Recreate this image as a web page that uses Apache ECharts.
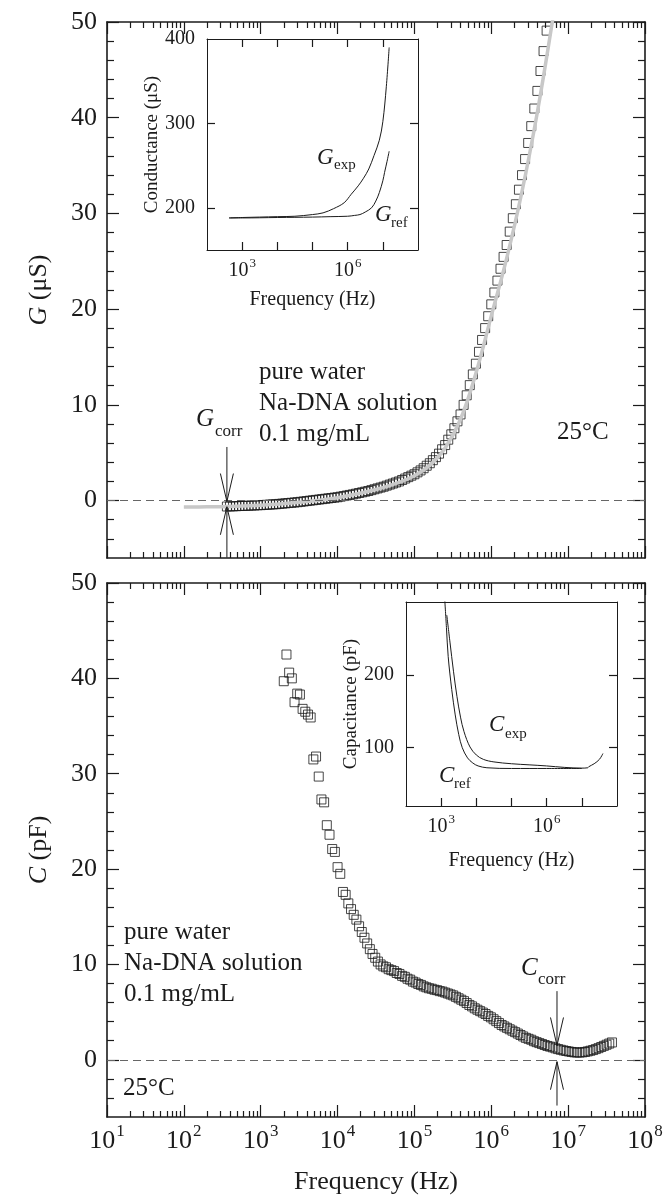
<!DOCTYPE html>
<html><head><meta charset="utf-8">
<script src="https://cdn.jsdelivr.net/npm/echarts@6/dist/echarts.min.js"></script>
<style>html,body{margin:0;padding:0;background:#fff}#c{width:666px;height:1198px}</style>
</head><body><div id="c"></div>
<script>
// ---------- data (frequencies given as log10(Hz)) ----------
const gLogF = [2.56,2.60,2.64,2.68,2.72,2.76,2.80,2.84,2.88,2.92,2.96,3.00,3.04,3.08,3.12,3.16,3.20,3.24,3.28,3.32,3.36,3.40,3.44,3.48,3.52,3.56,3.60,3.64,3.68,3.72,3.76,3.80,3.84,3.88,3.92,3.96,4.00,4.04,4.08,4.12,4.16,4.20,4.24,4.28,4.32,4.36,4.40,4.44,4.48,4.52,4.56,4.60,4.64,4.68,4.72,4.76,4.80,4.84,4.88,4.92,4.96,5.00,5.04,5.08,5.12,5.16,5.20,5.24,5.28,5.32,5.36,5.40,5.44,5.48,5.52,5.56,5.60,5.64,5.68,5.72,5.76,5.80,5.84,5.88,5.92,5.96,6.00,6.04,6.08,6.12,6.16,6.20,6.24,6.28,6.32,6.36,6.40,6.44,6.48,6.52,6.56,6.60,6.64,6.68,6.72,6.76];
const gVal = [-0.62,-0.61,-0.60,-0.59,-0.57,-0.56,-0.55,-0.54,-0.52,-0.51,-0.49,-0.48,-0.46,-0.44,-0.42,-0.40,-0.38,-0.35,-0.32,-0.29,-0.26,-0.23,-0.20,-0.17,-0.13,-0.09,-0.05,-0.01,0.03,0.07,0.11,0.15,0.19,0.23,0.27,0.31,0.35,0.41,0.47,0.53,0.59,0.65,0.72,0.79,0.86,0.93,1.00,1.09,1.18,1.27,1.36,1.45,1.56,1.67,1.78,1.89,2.00,2.15,2.30,2.45,2.60,2.75,2.95,3.15,3.38,3.64,3.90,4.22,4.54,4.90,5.36,5.80,6.36,6.92,7.56,8.28,9.00,10.0,11.0,12.06,13.18,14.3,15.54,16.78,18.02,19.26,20.5,21.74,22.98,24.22,25.46,26.7,28.1,29.5,30.96,32.48,34.0,35.68,37.36,39.12,40.96,42.8,44.88,46.96,49.1,51.2];
const gFitLogF = [2.00,2.30,2.56,3.00,3.50,4.00,4.50,4.80,5.00,5.20,5.40,5.60,5.80,6.00,6.20,6.40,6.60,6.80,6.86];
const gFitVal = [-0.68,-0.65,-0.62,-0.50,-0.18,0.30,1.15,1.90,2.60,3.70,5.50,8.50,13.3,19.3,25.3,32.3,40.6,50.3,53.5];

const cLogF = [3.300,3.335,3.370,3.405,3.440,3.475,3.510,3.545,3.580,3.615,3.650,3.685,3.720,3.755,3.790,3.825,3.860,3.895,3.930,3.965,4.000,4.035,4.070,4.105,4.140,4.175,4.210,4.245,4.280,4.315,4.350,4.385,4.420,4.455,4.490,4.525,4.560,4.595,4.630,4.665,4.700,4.735,4.770,4.805,4.840,4.875,4.910,4.945,4.980,5.015,5.050,5.085,5.120,5.155,5.190,5.225,5.260,5.295,5.330,5.365,5.400,5.435,5.470,5.505,5.540,5.575,5.610,5.645,5.680,5.715,5.750,5.785,5.820,5.855,5.890,5.925,5.960,5.995,6.030,6.065,6.100,6.135,6.170,6.205,6.240,6.275,6.310,6.345,6.380,6.415,6.450,6.485,6.520,6.555,6.590,6.625,6.660,6.695,6.730,6.765,6.800,6.835,6.870,6.905,6.940,6.975,7.010,7.045,7.080,7.115,7.150,7.185,7.220,7.255,7.290,7.325,7.360,7.395,7.430,7.465,7.500,7.535,7.570];
const cVal = [39.7,42.5,40.6,40.0,37.5,38.4,38.3,36.8,36.5,36.2,35.9,31.5,31.8,29.7,27.3,27.0,24.6,23.6,22.1,21.8,20.2,19.5,17.6,17.3,16.4,15.8,15.2,14.7,14.0,13.4,12.8,12.2,11.6,11.1,10.7,10.3,10.0,9.8,9.7,9.5,9.4,9.3,9.1,9.0,8.8,8.7,8.5,8.4,8.2,8.1,7.95,7.85,7.7,7.6,7.5,7.45,7.35,7.3,7.2,7.15,7.05,6.95,6.85,6.75,6.6,6.45,6.3,6.15,5.95,5.75,5.6,5.4,5.25,5.1,4.95,4.8,4.6,4.45,4.25,4.05,3.85,3.65,3.5,3.35,3.2,3.05,2.9,2.75,2.6,2.45,2.3,2.2,2.1,1.95,1.85,1.75,1.65,1.55,1.45,1.38,1.3,1.2,1.12,1.05,0.98,0.92,0.87,0.82,0.78,0.76,0.76,0.78,0.82,0.88,0.95,1.02,1.12,1.22,1.34,1.46,1.58,1.7,1.82];

// insets
const gExpLogF = [2.63,3.0,3.5,4.0,4.5,5.0,5.3,5.6,5.9,6.1,6.3,6.45,6.6,6.75,6.9,7.0,7.1,7.18];
const gExpVal  = [188,188.5,189,189.5,190,192,194,199,206,216,226,235,246,262,280,302,344,390];
const gRefLogF = [2.63,3.0,4.0,5.0,5.5,6.0,6.2,6.35,6.5,6.68,6.8,6.9,7.0,7.05,7.12,7.18];
const gRefVal  = [188,188,188.5,189,189.5,190,191,192,195,200,208,218,232,242,255,267];
const cExpLogF = [3.16,3.25,3.35,3.45,3.55,3.65,3.82,4.0,4.2,4.5,5.0,5.5,6.0,6.5,7.0,7.17,7.2,7.35,7.5,7.6];
const cExpVal  = [282,245,205,170,142,122,101,90,84,80.5,78,76.5,75,73,72,72.5,74,78,84,92];
const cRefLogF = [3.10,3.15,3.2,3.3,3.4,3.5,3.6,3.75,3.9,4.05,4.3,5.0,6.0,7.0];
const cRefVal  = [305,265,225,180,145,118,100,86,79,75,72.5,71.5,71.5,71.5];

// tick labels / positions
const mainXMajor = [1,2,3,4,5,6,7,8];
const mainYMajor = [0,10,20,30,40,50];
const insetXTicks = [3,4,5,6,7];
const insetXLabels = [3,6];
const gInsetYTicks = [200,300];
const gInsetYLabels = [200,300,400];
const cInsetYTicks = [100,200];
const cInsetYLabels = [100,200];

// correction arrows: [log f, down-arrow start, tip, up-arrow start, tip]
const gCorrArrow = [2.56, 5.6, -0.1, -5.95, -0.65];
const cCorrArrow = [6.855, 7.2, 1.5, -4.8, -0.2];

// ---------- chart ----------
const FONT = '"Liberation Serif","Times New Roman",serif';
const INK = '#1b1b1b';
const minorX = [];
for (let d = 1; d < 8; d++) for (let k = 2; k <= 9; k++) minorX.push(d + Math.log10(k));
const minorY = [];
for (let v = -4; v <= 48; v += 2) if (v % 10 !== 0) minorY.push(v);

function ax(gridIndex, position, min, max, ticks, len, line, label, extra) {
  return Object.assign({
    type: 'value', gridIndex, position, min, max,
    axisLine: {show: line, onZero: false, lineStyle: {color: INK, width: 1.5}},
    axisTick: {show: ticks.length > 0, inside: true, length: len, customValues: ticks, lineStyle: {color: INK, width: 1.2}},
    axisLabel: label || {show: false},
    splitLine: {show: false}
  }, extra || {});
}
const supLabel = (big, small, margin) => ({
  show: true, margin, customValues: null,
  formatter: v => '{b|10}{s|' + v + '}',
  rich: {
    b: {fontFamily: FONT, fontSize: big, color: INK, lineHeight: Math.round(big * 1.2), verticalAlign: 'bottom'},
    s: {fontFamily: FONT, fontSize: small, color: INK, lineHeight: small, verticalAlign: 'top', padding: [0, 0, 0, 1]}
  }
});
const yLab = (vals, size, margin) => ({show: true, customValues: vals, margin, fontFamily: FONT, fontSize: size, color: INK});

const xMainLab = supLabel(26, 17, 6); xMainLab.customValues = mainXMajor;
const xInsetLab = supLabel(20, 13, 7); xInsetLab.customValues = insetXLabels;

const xAxis = [
  ax(0, 'bottom', 1, 8, mainXMajor, 12, true),
  ax(0, 'bottom', 1, 8, minorX, 6, false),
  ax(0, 'top', 1, 8, mainXMajor, 12, true),
  ax(0, 'top', 1, 8, minorX, 6, false),
  ax(1, 'bottom', 1, 8, mainXMajor, 12, true, xMainLab, {
    name: 'Frequency (Hz)', nameLocation: 'middle', nameGap: 52,
    nameTextStyle: {fontFamily: FONT, fontSize: 26, color: INK}}),
  ax(1, 'bottom', 1, 8, minorX, 6, false),
  ax(1, 'top', 1, 8, mainXMajor, 12, true),
  ax(1, 'top', 1, 8, minorX, 6, false),
  ax(2, 'bottom', 2, 8, insetXTicks, 8, true, xInsetLab, {
    name: 'Frequency (Hz)', nameLocation: 'middle', nameGap: 40,
    nameTextStyle: {fontFamily: FONT, fontSize: 20, color: INK}}),
  ax(2, 'top', 2, 8, insetXTicks, 8, true),
  ax(3, 'bottom', 2, 8, insetXTicks, 8, true, xInsetLab, {
    name: 'Frequency (Hz)', nameLocation: 'middle', nameGap: 45,
    nameTextStyle: {fontFamily: FONT, fontSize: 20, color: INK}}),
  ax(3, 'top', 2, 8, [], 8, true)
];
xAxis.forEach(a => { a.axisLine.lineStyle.width = a.gridIndex >= 2 ? 1 : 1.6; });

const yName = (sym, unit, size, gap) => ({
  name: '{i|' + sym + '} ' + unit, nameLocation: 'middle', nameGap: gap, nameRotate: 90,
  nameTextStyle: {fontFamily: FONT, fontSize: size, color: INK,
    rich: {i: {fontFamily: FONT, fontSize: size, fontStyle: 'italic', color: INK}}}
});
const yPlain = (name, size, gap) => ({
  name, nameLocation: 'middle', nameGap: gap, nameRotate: 90,
  nameTextStyle: {fontFamily: FONT, fontSize: size, color: INK}
});

const yAxis = [
  ax(0, 'left', -6, 50, mainYMajor, 12, true, yLab(mainYMajor, 26, 10), yName('G', '(μS)', 26, 55)),
  ax(0, 'left', -6, 50, minorY, 7, false),
  ax(0, 'right', -6, 50, mainYMajor, 12, true),
  ax(0, 'right', -6, 50, minorY, 7, false),
  ax(1, 'left', -6, 50, mainYMajor, 12, true, yLab(mainYMajor, 26, 10), yName('C', '(pF)', 26, 55)),
  ax(1, 'left', -6, 50, minorY, 7, false),
  ax(1, 'right', -6, 50, mainYMajor, 12, true),
  ax(1, 'right', -6, 50, minorY, 7, false),
  ax(2, 'left', 150, 400, gInsetYTicks, 8, true, yLab(gInsetYLabels, 20, 12), yPlain('Conductance (μS)', 19, 42)),
  ax(2, 'right', 150, 400, gInsetYTicks, 8, true),
  ax(3, 'left', 20, 300, cInsetYTicks, 8, true, yLab(cInsetYLabels, 20, 12), yPlain('Capacitance (pF)', 19, 42)),
  ax(3, 'right', 20, 300, cInsetYTicks, 8, true)
];
yAxis.forEach(a => { a.axisLine.lineStyle.width = a.gridIndex >= 2 ? 1 : 1.6; });

const zip = (xs, ys) => xs.map((x, i) => [x, ys[i]]);
const dashLine = {silent: true, symbol: 'none', label: {show: false},
  lineStyle: {color: '#666666', type: [8, 5], width: 1}, data: [{yAxis: 0}]};
const squares = (xi, yi, data) => ({
  type: 'scatter', xAxisIndex: xi, yAxisIndex: yi, data, symbol: 'rect', symbolSize: 9,
  itemStyle: {color: 'rgba(0,0,0,0)', borderColor: '#1a1a1a', borderWidth: 1},
  silent: true, z: 3, markLine: dashLine
});
const arrow = (xi, yi, a) => ({
  type: 'custom', xAxisIndex: xi, yAxisIndex: yi, silent: true, z: 6, clip: false,
  data: [[a[0], a[1], a[2]], [a[0], a[3], a[4]]],
  renderItem: (params, api) => {
    const p = api.coord([api.value(0), api.value(1)]);
    const t = api.coord([api.value(0), api.value(2)]);
    const dir = p[1] > t[1] ? 1 : -1;
    const L = 28, W = 6.5;
    return {type: 'group', children: [
      {type: 'line', shape: {x1: p[0], y1: p[1], x2: t[0], y2: t[1]}, style: {stroke: INK, lineWidth: 1}},
      {type: 'polyline', shape: {points: [[t[0] - W, t[1] + dir * L], [t[0], t[1]], [t[0] + W, t[1] + dir * L]]},
        style: {stroke: INK, fill: null, lineWidth: 1}}
    ]};
  }
});
const curve = (xi, yi, data) => ({
  type: 'line', xAxisIndex: xi, yAxisIndex: yi, data, smooth: 0.35, symbol: 'none', showSymbol: false,
  lineStyle: {color: INK, width: 1}, silent: true, z: 3
});

const txt = (x, y, text, size, italic, align) => ({
  type: 'text', x, y, silent: true, z: 100,
  style: {text, fill: INK, font: (italic ? 'italic ' : '') + size + 'px ' + FONT,
    textAlign: align || 'left', textVerticalAlign: 'middle', align: align || 'left', verticalAlign: 'middle'}
});

const option = {
  animation: false,
  backgroundColor: '#ffffff',
  grid: [
    {left: 107, top: 22, width: 538, height: 536, containLabel: false, outerBoundsMode: 'none'},
    {left: 107, top: 583, width: 538, height: 534, containLabel: false, outerBoundsMode: 'none'},
    {left: 207, top: 39, width: 211, height: 211, containLabel: false, outerBoundsMode: 'none'},
    {left: 406, top: 602, width: 211, height: 204, containLabel: false, outerBoundsMode: 'none'}
  ],
  xAxis, yAxis,
  series: [
    squares(0, 0, zip(gLogF, gVal)),
    {type: 'line', xAxisIndex: 0, yAxisIndex: 0, data: zip(gFitLogF, gFitVal), smooth: 0.4,
      symbol: 'none', showSymbol: false, lineStyle: {color: '#c8c8c8', width: 3.5}, silent: true, z: 4},
    arrow(0, 0, gCorrArrow),
    squares(4, 4, zip(cLogF, cVal)),
    arrow(4, 4, cCorrArrow),
    curve(8, 8, zip(gExpLogF, gExpVal)),
    curve(8, 8, zip(gRefLogF, gRefVal)),
    curve(10, 10, zip(cExpLogF, cExpVal)),
    curve(10, 10, zip(cRefLogF, cRefVal))
  ],
  graphic: [
    txt(259, 372, 'pure water', 25),
    txt(259, 403, 'Na-DNA solution', 25),
    txt(259, 434, '0.1 mg/mL', 25),
    txt(557, 432, '25°C', 25),
    txt(196, 419, 'G', 25, true),
    txt(215, 432, 'corr', 17),
    txt(124, 932, 'pure water', 25),
    txt(124, 963, 'Na-DNA solution', 25),
    txt(124, 994, '0.1 mg/mL', 25),
    txt(123, 1088, '25°C', 25),
    txt(521, 968, 'C', 25, true),
    txt(538, 980, 'corr', 17),
    txt(317, 158, 'G', 23, true),
    txt(334, 165, 'exp', 15),
    txt(375, 215, 'G', 23, true),
    txt(391, 223, 'ref', 15),
    txt(489, 725, 'C', 23, true),
    txt(505, 734, 'exp', 15),
    txt(439, 776, 'C', 23, true),
    txt(454, 784, 'ref', 15)
  ]
};
const chart = echarts.init(document.getElementById('c'), null, {renderer: 'canvas'});
chart.setOption(option);
</script></body></html>
